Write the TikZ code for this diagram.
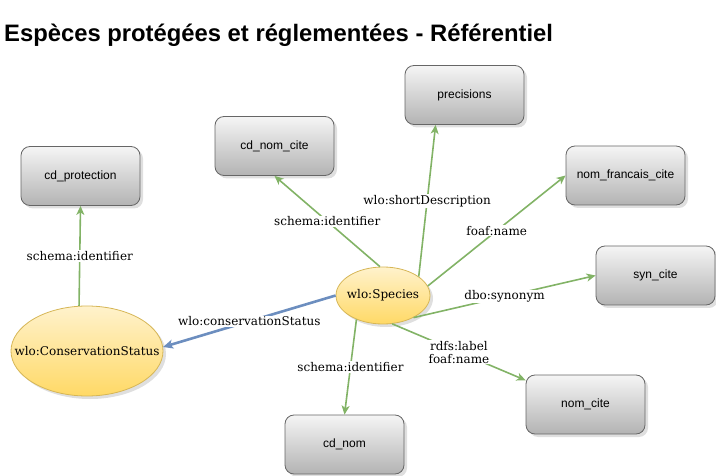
\documentclass[tikz,border=0pt]{standalone}
\usepackage{fontspec}
\setmainfont{DejaVu Serif}
\newfontfamily\boxfont{Liberation Sans}
\usepackage{tikz}
\usetikzlibrary{positioning,arrows.meta,shapes.geometric,shadows,calc}
\definecolor{linkcol}{HTML}{82B366}
\definecolor{statcol}{HTML}{6C8EBF}
\definecolor{boxtop}{HTML}{F5F5F5}
\definecolor{boxbot}{HTML}{B3B3B3}
\definecolor{boxline}{HTML}{666666}
\definecolor{clstop}{HTML}{FFF2CC}
\definecolor{clsbot}{HTML}{FFD966}
\definecolor{clsline}{HTML}{D6B656}
\newcommand{\clsname}[1]{\makebox[0pt]{#1}}% keep the ellipse size fixed

\begin{document}
\begin{tikzpicture}[x=1pt,y=-1pt,
    lit/.style={draw=boxline, line width=0.8pt, rounded corners=9pt,
      top color=boxtop, bottom color=boxbot,
      minimum width=119pt, minimum height=59pt,
      font=\boxfont\fontsize{12}{14}\selectfont,
      drop shadow={shadow xshift=3pt, shadow yshift=-3pt, opacity=0.25}},
    cls/.style={ellipse, draw=clsline, line width=0.8pt,
      top color=clstop, bottom color=clsbot, inner sep=0pt,
      font=\fontsize{12}{14}\selectfont,
      drop shadow={shadow xshift=3pt, shadow yshift=-3pt, opacity=0.25}},
    prop/.style={draw=linkcol, line width=1.6pt, -{Stealth[length=9pt, width=8pt, inset=2.5pt]}},
    stat/.style={draw=statcol, line width=2.6pt, -{Stealth[length=10pt, width=9pt, inset=2.5pt]}},
    lbl/.style={fill=white, inner sep=1pt, font=\fontsize{12}{13}\selectfont}]
  \useasboundingbox (0,0) rectangle (716,476);

  \node[anchor=base west, inner sep=0pt,
    font=\boxfont\bfseries\fontsize{23.8}{26}\selectfont] (title) at (4,42)
    {Espèces protégées et réglementées - Référentiel};

  % literal values
  \node[lit] (cdp) at (80.5,176) {cd\_protection};
  \node[lit] (cdnc) at (274.5,146) {cd\_nom\_cite};
  \node[lit] (pr) at (464.5,95) {precisions};
  \node[lit] (nfc) at (625.5,175.5) {nom\_francais\_cite};
  \node[lit] (syn) at (655.5,275.5) {syn\_cite};
  \node[lit] (nc) at (585.5,404.5) {nom\_cite};
  \node[lit] (cdn) at (344.5,444.5) {cd\_nom};

  % classes
  \node[cls, minimum width=94pt, minimum height=57pt] (sp) at (383,295.5) {\clsname{wlo:Species}};
  \node[cls, minimum width=152pt, minimum height=90pt] (cs) at (87,351) {\clsname{wlo:ConservationStatus}};

  % properties
  \draw[prop] (cs.100) -- node[lbl] (l1) {schema:identifier} (cdp.south);
  \draw[stat] (sp.west) -- node[lbl] (l2) {wlo:conservationStatus} (cs.3);
  \draw[prop] (sp.96) -- node[lbl] (l3) {schema:identifier} (cdnc.south);
  \draw[prop] (sp.28) -- node[lbl] (l4) {wlo:shortDescription} (pr.-134);
  \draw[prop] (sp.12) -- node[lbl] (l5) {foaf:name} (nfc.west);
  \draw[prop] (sp.-36) -- node[lbl] (l6) {dbo:synonym} (syn.west);
  \draw[prop] (sp.-72) -- node[lbl, align=center] (l7) {rdfs:label\\foaf:name} (nc.158);
  \draw[prop] (sp.-138) -- node[lbl] (l8) {schema:identifier} (cdn.north);
\end{tikzpicture}
\end{document}
